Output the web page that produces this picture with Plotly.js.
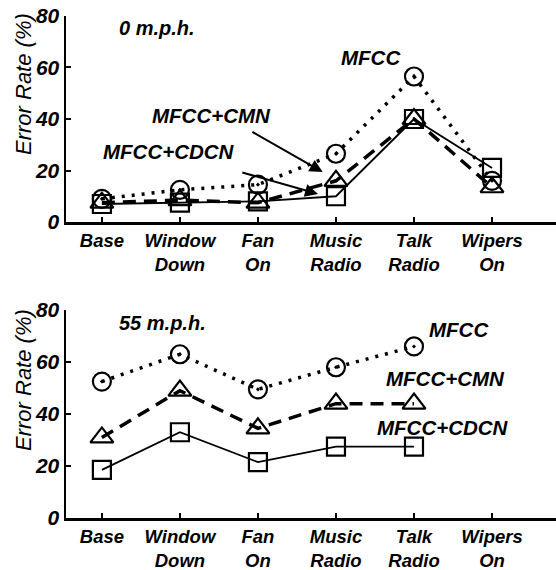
<!DOCTYPE html>
<html><head><meta charset="utf-8">
<script src="https://cdn.plot.ly/plotly-3.0.1.min.js"></script>
<style>html,body{margin:0;padding:0;background:#fff;}#chart{width:556px;height:570px;}</style>
</head><body><div id="chart"></div>
<script>
const categories = ["Base", "Window<br>Down", "Fan<br>On", "Music<br>Radio", "Talk<br>Radio", "Wipers<br>On"];
const catIndex = [0, 1, 2, 3, 4, 5];
// 0 m.p.h.
const mfcc0 = [9, 12.5, 14.5, 26.5, 56.5, 16];
const cmn0 = [7.5, 8.5, 7.5, 16, 40, 13.5];
const cdcn0 = [7, 7.5, 8, 10, 40, 21];
// 55 m.p.h.
const mfcc55 = [52.5, 63, 49.5, 58, 66, null];
const cmn55 = [31, 49, 34.5, 44, 44, null];
const cdcn55 = [18.5, 33, 21.5, 27.5, 27.5, null];
const yTicks = [0, 20, 40, 60, 80];

const FONT = "Liberation Sans, Arial, Helvetica, sans-serif";
const dotStyle = {color: "#000", width: 3.5, dash: "3px,7px"};
const dashStyle = {color: "#000", width: 3.5, dash: "13px,8px"};
const solidStyle = {color: "#000", width: 1.8};
const mk = (sym, size) => ({symbol: sym, size: size, color: "#000", line: {color: "#000", width: 2.2}});

function series(y, xa, ya, line, marker) {
  return {x: catIndex, y: y, xaxis: xa, yaxis: ya, mode: "lines+markers", line: line, marker: marker, showlegend: false, hoverinfo: "skip"};
}
const traces = [
  series(cdcn0, "x", "y", solidStyle, mk("square-open", 18)),
  series(cmn0, "x", "y", dashStyle, mk("triangle-up-open", 20)),
  series(mfcc0, "x", "y", dotStyle, mk("circle-open-dot", 18)),
  series(cdcn55, "x2", "y2", solidStyle, mk("square-open", 18)),
  series(cmn55, "x2", "y2", dashStyle, mk("triangle-up-open", 20)),
  series(mfcc55, "x2", "y2", dotStyle, mk("circle-open-dot", 18))
];

const xaxisBase = {
  range: [-0.46, 5.82], tickvals: catIndex, ticktext: categories,
  showgrid: false, zeroline: false, showline: true, linecolor: "#000", linewidth: 2.5,
  ticks: "inside", ticklen: 5, tickwidth: 2, tickcolor: "#000",
  tickfont: {family: FONT, size: 18.5, color: "#000", weight: "bold", style: "italic"},
  fixedrange: true
};
const yaxisBase = {
  range: [0, 80], tickvals: yTicks, ticktext: yTicks.map(String),
  showgrid: false, zeroline: false, showline: true, linecolor: "#000", linewidth: 2.5,
  ticks: "inside", ticklen: 5, tickwidth: 2, tickcolor: "#000",
  tickfont: {family: FONT, size: 21, color: "#000", weight: "bold", style: "italic"},
  fixedrange: true
};

const lbl = (text, x, y, xr, yr, size) => ({
  text: text, x: x, y: y, xref: xr, yref: yr, showarrow: false,
  font: {family: FONT, size: size || 20.5, color: "#000", weight: "bold", style: "italic"}
});
const arrow = (tx, ty, hx, hy) => ({
  text: "", x: hx, y: hy, ax: tx, ay: ty, xref: "x", yref: "y", axref: "x", ayref: "y",
  showarrow: true, arrowhead: 2, arrowsize: 1.3, arrowwidth: 2, arrowcolor: "#000"
});
const ytitle = (yPaper) => ({
  text: "Error Rate (%)", x: (23 - 66) / 490, y: yPaper, xref: "paper", yref: "paper", showarrow: false,
  textangle: -90, xanchor: "center", yanchor: "middle",
  font: {family: FONT, size: 22, color: "#000", style: "italic"}
});

const layout = {
  width: 556, height: 570,
  margin: {l: 66, r: 0, t: 0, b: 0},
  paper_bgcolor: "#fff", plot_bgcolor: "#fff",
  xaxis: Object.assign({}, xaxisBase, {domain: [0, 1], anchor: "y"}),
  yaxis: Object.assign({}, yaxisBase, {domain: [0.6105, 0.972], anchor: "x"}),
  xaxis2: Object.assign({}, xaxisBase, {domain: [0, 1], anchor: "y2"}),
  yaxis2: Object.assign({}, yaxisBase, {domain: [0.0912, 0.456], anchor: "x2"}),
  annotations: [
    lbl("0 m.p.h.", 0.7, 75.5, "x", "y", 20),
    lbl("MFCC", 3.45, 64, "x", "y"),
    lbl("MFCC+CMN", 1.41, 41.5, "x", "y"),
    lbl("MFCC+CDCN", 0.86, 27.2, "x", "y"),
    arrow(1.91, 35.3, 2.83, 19.4),
    arrow(1.78, 19.4, 2.77, 10.9),
    lbl("55 m.p.h.", 0.78, 75, "x2", "y2", 20),
    lbl("MFCC", 4.58, 72.7, "x2", "y2"),
    lbl("MFCC+CMN", 4.41, 53.5, "x2", "y2"),
    lbl("MFCC+CDCN", 4.37, 35, "x2", "y2"),
    ytitle(1 - 84 / 570),
    ytitle(1 - 380 / 570)
  ]
};

Plotly.newPlot("chart", traces, layout, {displayModeBar: false, staticPlot: true});
</script></body></html>
